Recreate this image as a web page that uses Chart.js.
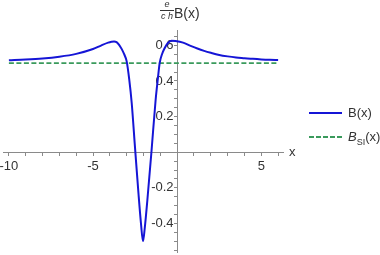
<!DOCTYPE html>
<html>
<head>
<meta charset="utf-8">
<script src="https://cdn.jsdelivr.net/npm/chart.js@4.4.1/dist/chart.umd.min.js"></script>
<style>
  html, body { margin: 0; padding: 0; background: #fff; }
  #wrap { position: relative; width: 380px; height: 255px; font-family: "Liberation Sans", Arial, sans-serif; color: #333; }
  #chart { position: absolute; left: 0; top: 0; }
  .txt { position: absolute; white-space: nowrap; line-height: 1; }
  .frac { position: absolute; left: 160px; top: 0px; width: 14px; text-align: center; font-style: italic; font-size: 9px; line-height: 1; }
  .frac .bar { height: 1px; background: #333; margin: 1px 0 1px 0; }
  .key { position: absolute; left: 309px; width: 33px; height: 2px; }
</style>
</head>
<body>
<div id="wrap">
  <canvas id="chart" width="380" height="255"></canvas>
  <div class="frac"><div>e</div><div class="bar"></div><div>c h</div></div>
  <div class="txt" style="left:174px; top:6px; font-size:14px;">B(x)</div>
  <div class="txt" style="left:289px; top:145px; font-size:13px;">x</div>
  <div class="key" style="top:112px; background:#1515d6;"></div>
  <div class="txt" style="left:348px; top:106px; font-size:13px;">B(x)</div>
  <div class="key" style="top:136px; background:repeating-linear-gradient(90deg, #3a9a5c 0 5px, transparent 5px 7px);"></div>
  <div class="txt" style="left:348px; top:130px; font-size:13px;"><i>B</i><sub style="font-size:9px;">SI</sub>(x)</div>
</div>
<script>
// values
const xValues = [-10, -9, -8, -7, -6, -5, -4.5, -4.1, -3.9, -3.75, -3.6, -3.45, -3.3, -3.15, -3.0, -2.85,
  -2.7, -2.5, -2.3, -2.15, -2.03, -1.92, -1.77, -1.53, -1.28, -1.15, -1.04, -0.9, -0.74, -0.55, -0.34,
  -0.1, 0.35, 0.8, 1.2, 1.6, 2.0, 2.5, 3.0, 3.5, 4.0, 4.5, 5.0, 5.5, 6.0];
const bValues = [0.516, 0.520, 0.526, 0.536, 0.552, 0.579, 0.600, 0.615, 0.620, 0.622, 0.618, 0.603,
  0.580, 0.550, 0.510, 0.41, 0.275, 0.02, -0.23, -0.40, -0.50, -0.42, -0.268, 0.0, 0.293, 0.41, 0.50,
  0.55, 0.585, 0.613, 0.626, 0.624, 0.615, 0.597, 0.582, 0.569, 0.558, 0.546, 0.538, 0.532, 0.528,
  0.524, 0.521, 0.519, 0.518];
const siX = [-10, 6];
const siValues = [0.5, 0.5];
const xTickLabels = [-10, -5, 5];
const yTickLabels = [-0.4, -0.2, 0.2, 0.4, 0.6];

function toPoints(xs, ys) {
    return xs.map(function (x, i) { return { x: x, y: ys[i] }; });
}

// axes cross at the origin, so they must not take any layout space
function noSpace(scale) {
    if (scale.isHorizontal()) scale.height = 0; else scale.width = 0;
    scale.paddingLeft = scale.paddingRight = scale.paddingTop = scale.paddingBottom = 0;
}

const tickFont = { family: '"Liberation Sans", Arial, sans-serif', size: 13 };

const ctx = document.getElementById('chart').getContext('2d');
new Chart(ctx, {
    type: 'scatter',
    data: {
        datasets: [{
            label: 'B(x)',
            data: toPoints(xValues, bValues),
            showLine: true,
            borderColor: '#1515d6',
            borderWidth: 2,
            pointRadius: 0,
            cubicInterpolationMode: 'monotone'
        }, {
            label: 'B_SI(x)',
            data: toPoints(siX, siValues),
            showLine: true,
            borderColor: '#3a9a5c',
            borderWidth: 1.6,
            borderDash: [5, 2.5],
            pointRadius: 0
        }]
    },
    options: {
        responsive: false,
        animation: false,
        layout: { padding: { left: 3, right: 97, top: 30, bottom: 3 } },
        plugins: { legend: { display: false }, tooltip: { enabled: false } },
        scales: {
            x: {
                type: 'linear',
                min: -10.35,
                max: 6.29,
                position: { y: 0 },
                afterFit: noSpace,
                border: { color: '#8a8a8a', width: 1 },
                grid: { drawOnChartArea: false, drawTicks: true, tickLength: 3, color: '#8a8a8a' },
                ticks: {
                    stepSize: 1,
                    includeBounds: false,
                    autoSkip: false,
                    maxRotation: 0,
                    padding: 3,
                    color: '#333',
                    font: tickFont,
                    callback: function (v) { return xTickLabels.includes(Math.round(v)) && Math.abs(v - Math.round(v)) < 1e-6 ? String(v) : ''; }
                }
            },
            y: {
                type: 'linear',
                min: -0.56,
                max: 0.686,
                position: { x: 0 },
                afterFit: noSpace,
                border: { color: '#8a8a8a', width: 1 },
                grid: { drawOnChartArea: false, drawTicks: true, tickLength: 3, color: '#8a8a8a' },
                ticks: {
                    stepSize: 0.05,
                    includeBounds: false,
                    autoSkip: false,
                    padding: 4,
                    color: '#333',
                    font: tickFont,
                    callback: function (v) {
                        const r = Math.round(v * 100) / 100;
                        // trailing space keeps the label clear of the axis line
                        return yTickLabels.includes(r) ? r.toFixed(1) + ' ' : '';
                    }
                }
            }
        }
    }
});
</script>
</body>
</html>
